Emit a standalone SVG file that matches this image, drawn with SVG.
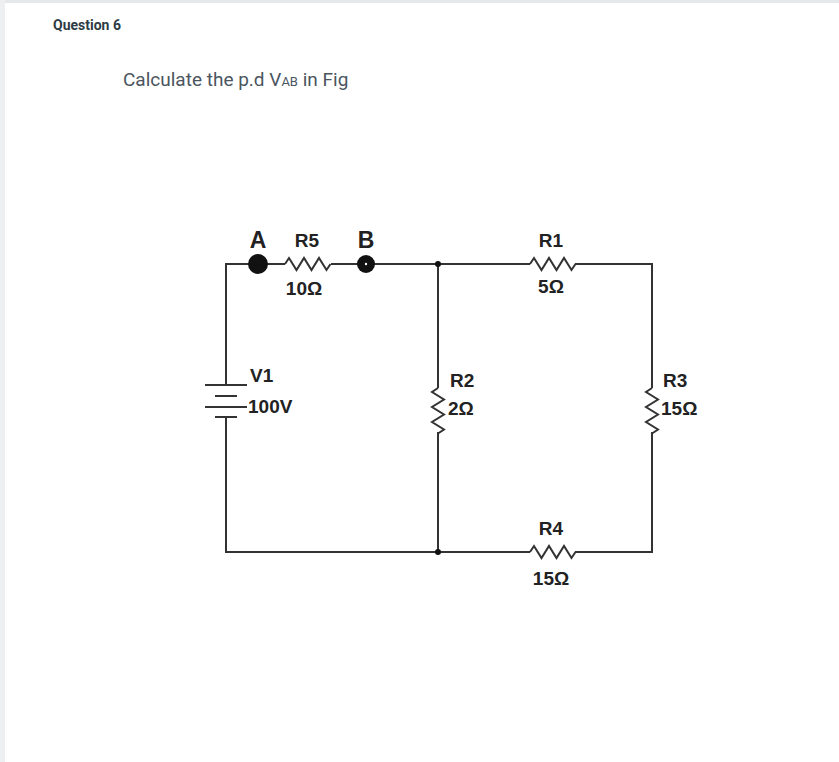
<svg xmlns="http://www.w3.org/2000/svg" width="839" height="762" viewBox="0 0 839 762">
<style>
.w{fill:none;stroke:#333;stroke-width:2}
.t{font-family:"Liberation Sans",Arial,sans-serif;font-weight:bold;fill:#222;font-size:19px}
.big{font-size:23px}
</style>
<rect width="839" height="762" fill="#fff"/>
<rect x="0" y="0" width="839" height="3" fill="#e6e7ea"/>
<rect x="0" y="0" width="5" height="762" fill="#eeeff1"/>
<text x="53" y="30" font-family="Roboto,sans-serif" font-weight="bold" font-size="14" fill="#2d3b45">Question 6</text>
<text x="123" y="86" font-family="Roboto,sans-serif" font-size="19" fill="#4a5560">Calculate the p.d V<tspan font-size="13">AB</tspan> in Fig</text>
<g id="connectors">
<path class="w" d="M258,264 H226 V385 M226,417 V552 H438"/>
<path class="w" d="M258,264 H285 M331,264 H438 H530 M575,264 H652 V388 M652,432 V552 H575 M530,552 H438"/>
<path class="w" d="M438,264 V388 M438,432 V552"/>
</g>
<g id="V1">
<path class="w" d="M205,385 H247 M215,396 H237 M205,407 H247 M215,417 H237"/>
<text class="t" x="250" y="382">V1</text>
<text class="t" x="248" y="413">100V</text>
</g>
<g id="A"><circle cx="258" cy="264" r="10" fill="#111"/><text class="t big" x="258" y="248" text-anchor="middle">A</text></g>
<g id="B"><circle cx="366" cy="264" r="9" fill="#111"/><circle cx="366" cy="264" r="1.2" fill="#fff"/><text class="t big" x="366" y="248" text-anchor="middle">B</text></g>
<g id="R5"><path class="w" d="M285,264 l4,-6 l7.5,12 l7.5,-12 l7.5,12 l7.5,-12 l7.5,12 l4,-6"/><text class="t" x="307" y="247" text-anchor="middle">R5</text><text class="t" x="304" y="295" text-anchor="middle">10Ω</text></g>
<g id="R1"><path class="w" d="M530,264 l4,-6 l7.5,12 l7.5,-12 l7.5,12 l7.5,-12 l7.5,12 l4,-6"/><text class="t" x="551" y="247" text-anchor="middle">R1</text><text class="t" x="551" y="293" text-anchor="middle">5Ω</text></g>
<g id="R4"><path class="w" d="M530,552 l4,-6 l7.5,12 l7.5,-12 l7.5,12 l7.5,-12 l7.5,12 l4,-6"/><text class="t" x="551" y="535" text-anchor="middle">R4</text><text class="t" x="551" y="585" text-anchor="middle">15Ω</text></g>
<g id="R2"><path class="w" d="M438,388 l-6,4 l12,7.5 l-12,7.5 l12,7.5 l-12,7.5 l12,7.5 l-6,4"/><text class="t" x="450" y="387">R2</text><text class="t" x="448" y="415">2Ω</text></g>
<g id="R3"><path class="w" d="M652,388 l-6,4 l12,7.5 l-12,7.5 l12,7.5 l-12,7.5 l12,7.5 l-6,4"/><text class="t" x="663" y="387">R3</text><text class="t" x="661" y="415">15Ω</text></g>
<g id="junctions"><circle cx="438" cy="264" r="3" fill="#111"/><circle cx="438" cy="552" r="3" fill="#111"/></g>
</svg>
